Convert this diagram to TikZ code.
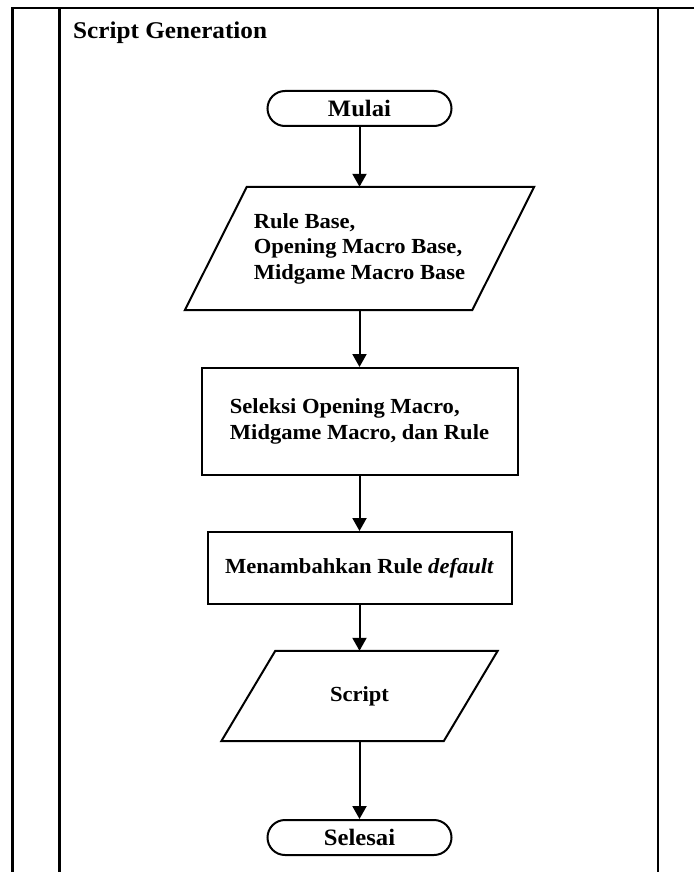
\documentclass[tikz,border=0pt]{standalone}
\usepackage{fontspec}
\setmainfont{Liberation Serif}[FakeStretch=1.05]
\usetikzlibrary{arrows.meta,calc}

\begin{document}
\begin{tikzpicture}[x=1pt,y=-1pt,
  frameline/.style={line width=2.5pt},
  shapeline/.style={line width=2pt},
  txt/.style={font=\fontsize{21.5}{25.5}\selectfont\bfseries},
  terminal/.style={shapeline, draw, rounded corners=17.5pt, minimum width=184pt,
    minimum height=35pt, inner sep=0pt, font=\fontsize{23.5}{26}\selectfont\bfseries},
  process/.style={shapeline, draw, inner sep=0pt, txt, align=left},
  iobox/.style={inner sep=0pt, txt, align=left},
  flow/.style={shapeline, -{Triangle[width=14pt,length=13pt]}}
]
\useasboundingbox (0,0) rectangle (694,872);
\fill[white] (0,0) rectangle (694,872);

% swimlane frame
\draw[frameline] (694,8) -- (12.5,8) -- (12.5,872);
\draw[frameline] (59.5,8) -- (59.5,872);
\draw[frameline] (658,8) -- (658,872);
\node[anchor=base west, inner sep=0pt, font=\fontsize{24}{27}\selectfont\bfseries]
  (title) at (73,39) {Script Generation};

% flowchart
\node[terminal] (start) at (359.5,108.5) {Mulai};

\node[iobox, minimum width=287pt, minimum height=123pt] (in) at (359.5,248.5)
  {Rule Base,\\Opening Macro Base,\\Midgame Macro Base};
\draw[shapeline] ($(in.north west)+(31,0)$) -- ($(in.north east)+(31,0)$)
  -- ($(in.south east)+(-31,0)$) -- ($(in.south west)+(-31,0)$) -- cycle;

\node[process, minimum width=316pt, minimum height=107pt] (sel) at (359.5,421.5)
  {Seleksi Opening Macro,\\Midgame Macro, dan Rule};

\node[process, minimum width=304pt, minimum height=72pt] (add) at (359.5,568)
  {Menambahkan Rule \textit{default}};

\node[iobox, minimum width=222pt, minimum height=90pt] (out) at (359.5,696) {Script};
\draw[shapeline] ($(out.north west)+(27,0)$) -- ($(out.north east)+(27,0)$)
  -- ($(out.south east)+(-27,0)$) -- ($(out.south west)+(-27,0)$) -- cycle;

\node[terminal] (end) at (359.5,837.5) {Selesai};

\draw[flow] (start) -- (in);
\draw[flow] (in) -- (sel);
\draw[flow] (sel) -- (add);
\draw[flow] (add) -- (out);
\draw[flow] (out) -- (end);
\end{tikzpicture}
\end{document}
